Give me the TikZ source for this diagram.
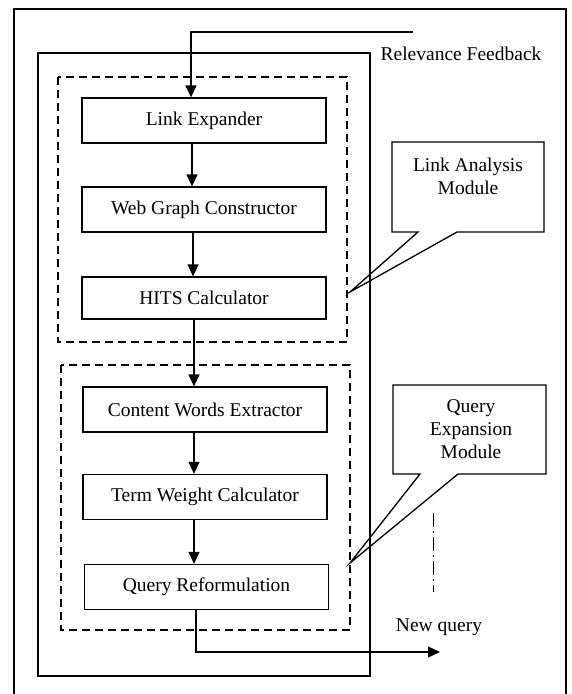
\documentclass[tikz,border=0pt]{standalone}
\usepackage{fontspec}
\setmainfont{Liberation Serif}
\usetikzlibrary{arrows.meta}
\begin{document}
\begin{tikzpicture}[x=1pt,y=-1pt,
  font=\fontsize{19.5}{23}\selectfont,
  frame/.style={line width=1.2pt},
  stage/.style={draw,line width=1.3pt,minimum width=244pt,minimum height=45pt,inner sep=0pt},
  groupbox/.style={dashed,line width=1.6pt,dash pattern=on 8pt off 5pt},
  flow/.style={line width=1.3pt,-{Triangle[length=12pt,width=11pt]}},
  bubble/.style={line width=1.3pt,line join=miter},
  lbl/.style={inner sep=0pt,align=center}]
\useasboundingbox (0,0) rectangle (571,694);

% outer and inner frames
\draw[frame] (14,694) -- (14,9) -- (566,9) -- (566,694);
\draw[frame] (38,53) rectangle (370,676);

% module groups
\draw[groupbox] (58,77) rectangle (347,342);
\draw[groupbox] (61,365) rectangle (350,630);

% processing stages
\node[stage] (le)   at (204,120.5) {Link Expander};
\node[stage] (wgc)  at (204,209.5) {Web Graph Constructor};
\node[stage,minimum height=42pt] (hits) at (204,298) {HITS Calculator};
\node[stage] (cwe)  at (205,409.5) {Content Words Extractor};
\node[stage] (twc)  at (205,497) {Term Weight Calculator};
\node[stage] (qr)   at (206.5,587) {Query Reformulation};

% relevance feedback entering the chain
\coordinate (fbstart) at (413,32);
\coordinate (fbturn) at (191,32);
\draw[flow] (fbstart) -- (fbturn) -- (fbturn |- le.north);
\node[lbl] (fb) at (461,54) {Relevance Feedback};

% chain of stages
\draw[flow] ([xshift=-12pt]le.south)   -- ([xshift=-12pt]le.south |- wgc.north);
\draw[flow] ([xshift=-11pt]wgc.south)  -- ([xshift=-11pt]wgc.south |- hits.north);
\draw[flow] ([xshift=-10pt]hits.south) -- ([xshift=-10pt]hits.south |- cwe.north);
\draw[flow] ([xshift=-11pt]cwe.south)  -- ([xshift=-11pt]cwe.south |- twc.north);
\draw[flow] ([xshift=-11pt]twc.south)  -- ([xshift=-11pt]twc.south |- qr.north);

% new query output
\coordinate (out) at (440,652);
\draw[flow] ([xshift=-10.5pt]qr.south) -- ([xshift=-10.5pt]qr.south |- out) -- (out);
\node[lbl] (nq) at (439,627) {New query};

% callout: link analysis module
\coordinate (la1) at (392,142);
\coordinate (la2) at (544,232);
\coordinate (latip) at (350,292);
\draw[bubble] (la1) -- (la1 -| la2) -- (la2) -- (457,232) -- (latip) -- (418,232) -- (la1 |- la2) -- cycle;
\node[lbl] (la) at (468,176) {Link Analysis\\Module};

% callout: query expansion module
\coordinate (qe1) at (393,385);
\coordinate (qe2) at (546,474);
\coordinate (qetip) at (350,563);
\draw[bubble] (qe1) -- (qe1 -| qe2) -- (qe2) -- (458,474) -- (qetip) -- (420,474) -- (qe1 |- qe2) -- cycle;
\node[lbl] (qe) at (471,429) {Query\\Expansion\\Module};

% faint dashed guide
\coordinate (g1) at (433,513);
\coordinate (g2) at (433,592);
\draw[line width=0.7pt,dash pattern=on 14pt off 4pt on 2pt off 4pt] (g1) -- (g2);
\end{tikzpicture}
\end{document}
